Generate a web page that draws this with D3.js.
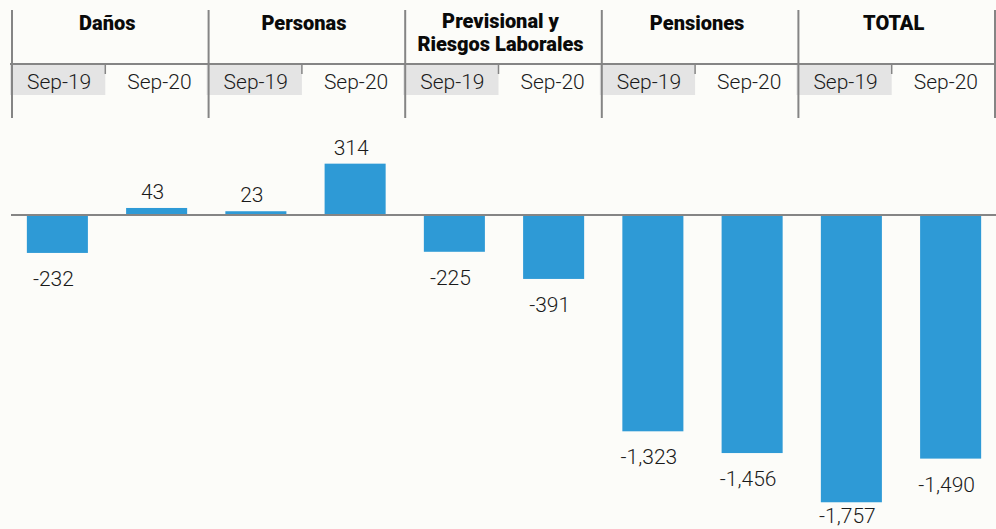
<!DOCTYPE html>
<html>
<head>
<meta charset="utf-8">
<script src="https://cdn.jsdelivr.net/npm/d3@7"></script>
<style>
  html, body { margin: 0; padding: 0; background: #fcfcf9; }
  svg { display: block; }
</style>
</head>
<body>
<div class="chart"></div>
<script>
// groups and periods shown in the header
const groups = ['Daños', 'Personas', 'Previsional y|Riesgos Laborales', 'Pensiones', 'TOTAL'];
const periods = ['Sep-19', 'Sep-20'];
// values per group, in the order of periods
const sep19 = [-232, 23, -225, -1323, -1757];
const sep20 = [43, 314, -391, -1456, -1490];

const width = 996;
const height = 529;
const blue = '#2e9ad6';
const lineColor = '#858585';

const fmt = d3.formatLocale({ decimal: '.', thousands: ',', grouping: [3], currency: ['$', ''], minus: '-' }).format(',');

const rows = [];
groups.forEach((g, i) => {
  rows.push({ key: i + '-0', group: i, period: periods[0], value: sep19[i] });
  rows.push({ key: i + '-1', group: i, period: periods[1], value: sep20[i] });
});

const svg = d3.select('.chart')
  .append('svg')
  .attr('width', width)
  .attr('height', height);

// header scale, one column per group
const gx = d3.scaleBand()
  .domain(d3.range(groups.length))
  .range([12, 995])
  .padding(0);

// bar scale, one band per bar
const x = d3.scaleBand()
  .domain(rows.map(d => d.key))
  .range([8, 1000])
  .paddingInner(0.385)
  .paddingOuter(0.19);

const y = d3.scaleLinear()
  .domain([-1800, 400])
  .range([509.3, 149.6]);

// header: grey boxes behind the first period
const header = svg.append('g').attr('class', 'header');

header.selectAll('rect.period')
  .data(d3.range(groups.length))
  .enter()
    .append('rect')
    .attr('class', 'period')
    .attr('x', i => gx(i) - 2)
    .attr('y', 65)
    .attr('width', i => gx.bandwidth() / 2 - 3)
    .attr('height', 30)
    .attr('fill', '#e4e4e4');

// small tick at end of grey box
header.selectAll('line.tick')
  .data(d3.range(groups.length))
  .enter()
    .append('line')
    .attr('x1', i => gx(i) + gx.bandwidth() / 2 - 5)
    .attr('x2', i => gx(i) + gx.bandwidth() / 2 - 5)
    .attr('y1', 64)
    .attr('y2', 74)
    .attr('stroke', lineColor)
    .attr('stroke-width', 1.5);

// top horizontal rule
header.append('line')
  .attr('x1', 10)
  .attr('x2', width)
  .attr('y1', 64)
  .attr('y2', 64)
  .attr('stroke', lineColor)
  .attr('stroke-width', 2);

// group dividers
header.selectAll('line.divider')
  .data(d3.range(groups.length + 1))
  .enter()
    .append('line')
    .attr('class', 'divider')
    .attr('x1', i => i < groups.length ? gx(i) : gx.range()[1])
    .attr('x2', i => i < groups.length ? gx(i) : gx.range()[1])
    .attr('y1', 10)
    .attr('y2', 118)
    .attr('stroke', lineColor)
    .attr('stroke-width', 2);

// group titles
header.selectAll('text.group')
  .data(groups)
  .enter()
    .append('text')
    .attr('class', 'group')
    .attr('x', (d, i) => gx(i) + gx.bandwidth() / 2 - 3)
    .attr('y', d => d.includes('|') ? 28 : 30)
    .attr('text-anchor', 'middle')
    .attr('font-family', 'Roboto, sans-serif')
    .attr('font-weight', 900)
    .attr('font-size', 20)
    .attr('fill', '#0a0a0a')
    .each(function (d) {
      const parts = d.split('|');
      d3.select(this).selectAll('tspan')
        .data(parts)
        .enter()
          .append('tspan')
          .attr('x', d3.select(this).attr('x'))
          .attr('dy', (p, k) => k === 0 ? 0 : 23)
          .text(p => p);
    });

// period labels
header.selectAll('text.period')
  .data(rows)
  .enter()
    .append('text')
    .attr('class', 'period')
    .attr('x', d => gx(d.group) + gx.bandwidth() / 4 * (d.period === periods[0] ? 1 : 3) - (d.period === periods[0] ? 2 : 0))
    .attr('y', 89)
    .attr('text-anchor', 'middle')
    .attr('font-family', 'Roboto, sans-serif')
    .attr('font-weight', 300)
    .attr('font-size', 21)
    .attr('fill', '#1a1a1a')
    .text(d => d.period);

// bars
svg.append('g')
  .selectAll('rect')
  .data(rows)
  .enter()
    .append('rect')
    .attr('x', d => x(d.key))
    .attr('width', x.bandwidth())
    .attr('y', d => y(Math.max(0, d.value)))
    .attr('height', d => Math.abs(y(d.value) - y(0)))
    .attr('fill', blue);

// zero line
svg.append('line')
  .attr('x1', 11)
  .attr('x2', width)
  .attr('y1', y(0))
  .attr('y2', y(0))
  .attr('stroke', lineColor)
  .attr('stroke-width', 2);

// value labels (kept inside the picture at the bottom)
svg.append('g')
  .selectAll('text')
  .data(rows)
  .enter()
    .append('text')
    .attr('x', d => x(d.key) + x.bandwidth() / 2 - 4)
    .attr('y', d => d.value >= 0 ? y(d.value) - 9 : Math.min(y(d.value) + 33, height - 6))
    .attr('text-anchor', 'middle')
    .attr('font-family', 'Roboto, sans-serif')
    .attr('font-weight', 300)
    .attr('font-size', 21)
    .attr('fill', '#1a1a1a')
    .text(d => fmt(d.value));
</script>
</body>
</html>
